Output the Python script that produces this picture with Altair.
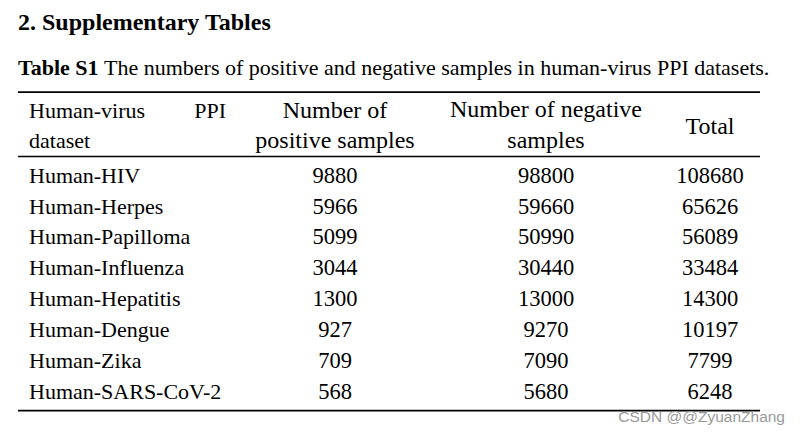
import altair as alt
import pandas as pd

# ---- data ----
datasets = ["Human-HIV", "Human-Herpes", "Human-Papilloma", "Human-Influenza",
            "Human-Hepatitis", "Human-Dengue", "Human-Zika", "Human-SARS-CoV-2"]
positives = [9880, 5966, 5099, 3044, 1300, 927, 709, 568]
negatives = [98800, 59660, 50990, 30440, 13000, 9270, 7090, 5680]
totals = [108680, 65626, 56089, 33484, 14300, 10197, 7799, 6248]

section_title = "2. Supplementary Tables"
caption_bold = "Table S1"
caption_text = "The numbers of positive and negative samples in human-virus PPI datasets."
watermark = "CSDN @@ZyuanZhang"

# ---- layout (image pixel coordinates) ----
W, H = 800, 434
LEFT_X = 29
COL_X = [335, 546, 710]
ROW0 = 183
ROW_STEP = 31
RULE_X = (18, 760)
SERIF = "Times New Roman, Liberation Serif, serif"
FS = 22

xs = alt.Scale(domain=[8, W - 8], nice=False, zero=False)
ys = alt.Scale(domain=[8, H - 8], nice=False, zero=False, reverse=True)

def X(field="x"):
    return alt.X(f"{field}:Q", scale=xs, axis=None)

def Y():
    return alt.Y("y:Q", scale=ys, axis=None)

# body cells
name_df = pd.DataFrame({"x": LEFT_X, "y": [ROW0 + i * ROW_STEP for i in range(len(datasets))],
                        "t": datasets})
num_rows = []
for j, arr in enumerate([positives, negatives, totals]):
    for i, v in enumerate(arr):
        num_rows.append({"x": COL_X[j], "y": ROW0 + i * ROW_STEP, "t": str(v)})
num_df = pd.DataFrame(num_rows)

# header cells
head_left = pd.DataFrame({"x": [LEFT_X, LEFT_X], "y": [118, 148],
                          "t": ["Human-virus", "dataset"]})
head_right = pd.DataFrame({"x": [226], "y": [118], "t": ["PPI"]})
head_center = pd.DataFrame({
    "x": [COL_X[0], COL_X[0], COL_X[1], COL_X[1], COL_X[2]],
    "y": [118, 148, 117, 148, 134],
    "t": ["Number of", "positive samples", "Number of negative", "samples", "Total"],
})

rules = pd.DataFrame({"x": [RULE_X[0]] * 3, "x2": [RULE_X[1]] * 3,
                      "y": [92.3, 156.8, 411.6]})

def text_layer(df, align, size=FS, weight="normal", font=SERIF, color="#000000"):
    return alt.Chart(df).mark_text(
        align=align, baseline="alphabetic", font=font, fontSize=size,
        fontWeight=weight, color=color
    ).encode(x=X(), y=Y(), text="t:N")

title = text_layer(pd.DataFrame({"x": [18], "y": [30], "t": [section_title]}),
                   "left", size=24, weight="bold")
cap_b = text_layer(pd.DataFrame({"x": [18], "y": [75], "t": [caption_bold]}),
                   "left", size=22, weight="bold")
cap_t = text_layer(pd.DataFrame({"x": [104], "y": [75], "t": [caption_text]}),
                   "left", size=22)

rule_layer = alt.Chart(rules).mark_rule(color="#000000", strokeWidth=1.6).encode(
    x=X(), x2="x2:Q", y=Y()
)

wm = text_layer(pd.DataFrame({"x": [785], "y": [423], "t": [watermark]}),
                "right", size=15.5, font="Liberation Sans", color="#9a9a9a")

chart = alt.layer(
    rule_layer,
    title, cap_b, cap_t,
    text_layer(head_left, "left"),
    text_layer(head_right, "right"),
    text_layer(head_center, "center", size=24),
    text_layer(name_df, "left"),
    text_layer(num_df, "center", size=22.5),
    wm,
).properties(
    width=W - 16, height=H - 16, padding=0,
    autosize=alt.AutoSizeParams(type="fit", contains="padding"),
    background="#ffffff",
).configure_view(stroke=None)

chart.save("out.html", embed_options={"renderer": "svg", "actions": False})
